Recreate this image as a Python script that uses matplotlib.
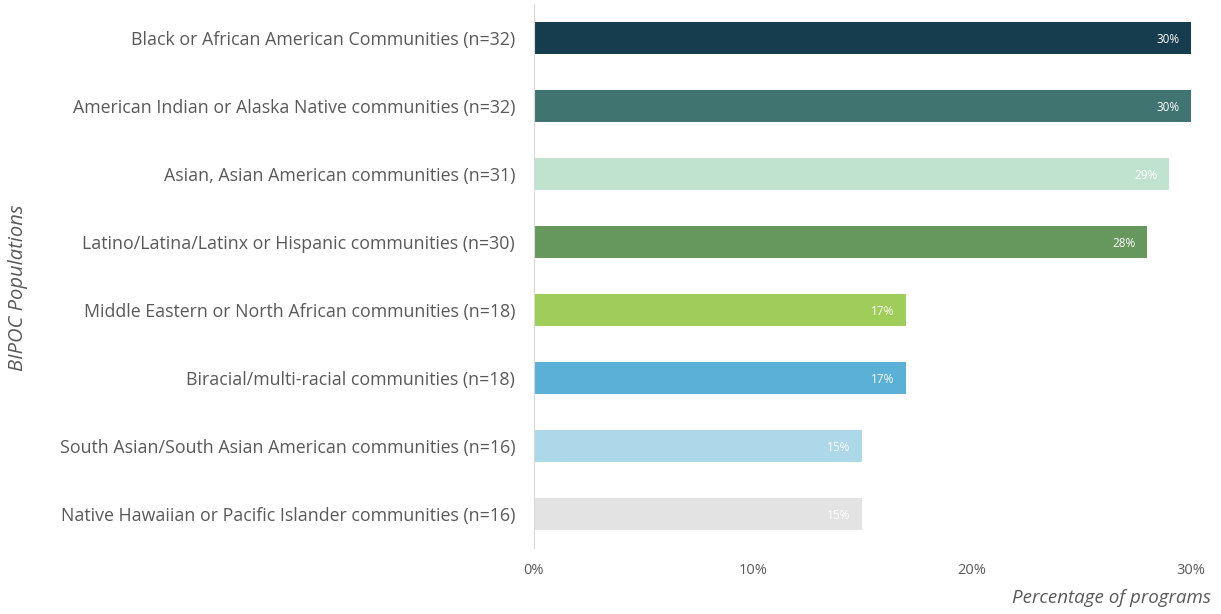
import matplotlib.pyplot as plt

plt.rcParams['font.family'] = ['Open Sans', 'DejaVu Sans']

populations = [
    'Black or African American Communities (n=32)',
    'American Indian or Alaska Native communities (n=32)',
    'Asian, Asian American communities (n=31)',
    'Latino/Latina/Latinx or Hispanic communities (n=30)',
    'Middle Eastern or North African communities (n=18)',
    'Biracial/multi-racial communities (n=18)',
    'South Asian/South Asian American communities (n=16)',
    'Native Hawaiian or Pacific Islander communities (n=16)',
]
pct_programs = [30, 30, 29, 28, 17, 17, 15, 15]
bar_colors = ['#163d4d', '#3f7470', '#c0e3d0', '#66985e',
              '#9ecd5a', '#5ab0d6', '#acd8ea', '#e3e3e3']
xticks = [0, 10, 20, 30]

fig = plt.figure(figsize=(12.21, 6.14), dpi=100)
ax = fig.add_axes([0.4373, 0.1075, 0.5381, 0.886])

ypos = list(range(len(populations)))
bars = ax.barh(ypos, pct_programs, height=0.47, color=bar_colors)

for bar, val in zip(bars, pct_programs):
    ax.annotate(f'{val}%', xy=(bar.get_width(), bar.get_y() + bar.get_height() / 2),
                xytext=(-8.5, -1), textcoords='offset points', ha='right', va='center',
                color='white', fontsize=8.5)

ax.set_xlim(0, 30)
ax.set_ylim(len(populations) - 0.5, -0.5)
ax.set_yticks(ypos)
ax.set_yticklabels(populations, fontsize=12.8, color='#595959')
ax.set_xticks(xticks)
ax.set_xticklabels([f'{t}%' for t in xticks], fontsize=10.5, color='#595959')
ax.tick_params(axis='both', length=0)
ax.tick_params(axis='y', pad=13.5)
ax.tick_params(axis='x', pad=11)

for side in ['top', 'right', 'bottom']:
    ax.spines[side].set_visible(False)
ax.spines['left'].set_color('#d9d9d9')
ax.spines['left'].set_linewidth(0.8)

fig.text(1211 / 1221, 1 - 598 / 614, 'Percentage of programs', ha='right', va='center',
         fontsize=13.5, style='italic', color='#595959')
fig.text(18 / 1221, 1 - 288 / 614, 'BIPOC Populations', ha='center', va='center',
         rotation=90, fontsize=14.5, style='italic', color='#595959')

fig.savefig('out.png', dpi=100)
